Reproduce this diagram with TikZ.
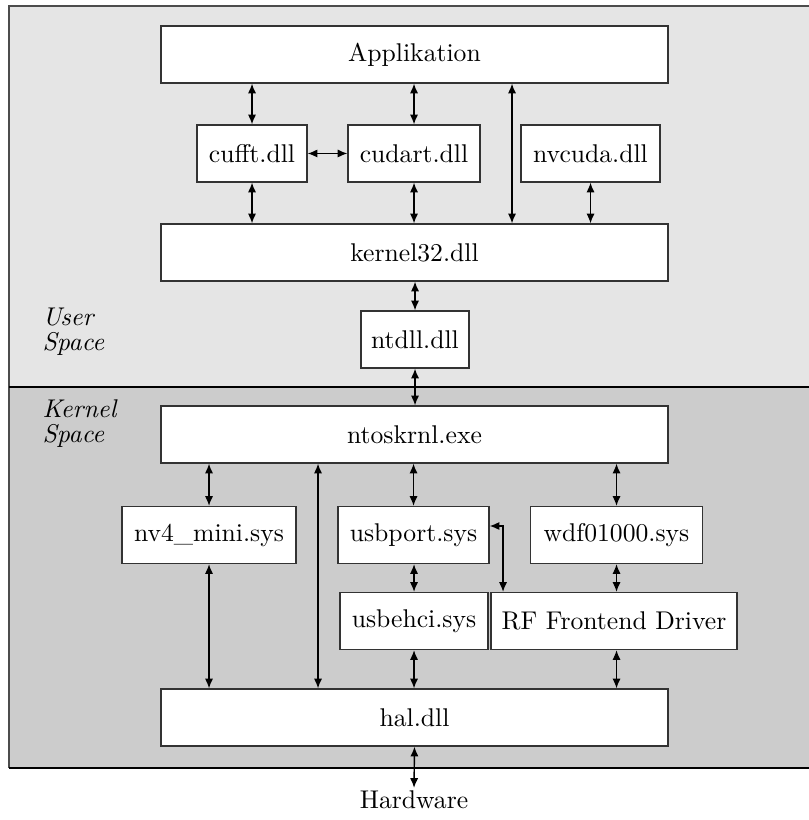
\documentclass[tikz,border=0pt]{standalone}
\usetikzlibrary{arrows.meta}
\begin{document}
\begin{tikzpicture}[
  x={(0.39pt,0)}, y={(0,-0.39pt)},
  module/.style 2 args={draw=black!80, line width=0.5pt, fill=white, inner sep=0pt,
    minimum width=#1*0.39pt, minimum height=#2*0.39pt, font=\normalsize},
  link/.style={{Latex[length=3.8pt,width=3.2pt]}-{Latex[length=3.8pt,width=3.2pt]}, line width=0.55pt, black},
  spacelabel/.style={anchor=north west, align=left, inner sep=0pt, font=\itshape}
]
\useasboundingbox (0,0) rectangle (808,820);

% address space regions
\fill[black!10] (9,6) rectangle (815,387);
\fill[black!20] (9,387) rectangle (815,768);
\draw[black!70, line width=0.6pt] (9,387) -- (9,6) -- (815,6);
\draw[black!70, line width=0.6pt] (9,387) -- (9,768);
\draw[black, line width=0.6pt] (9,387) -- (815,387);
\draw[black, line width=0.6pt] (9,768) -- (815,768);

\node[spacelabel] (user) at (42,307) {User\\[-2pt]Space};
\node[spacelabel] (kern) at (42,399) {Kernel\\[-2pt]Space};

% user space modules
\node[module={507}{57}] (app)    at (414.5,54.5)  {Applikation};
\node[module={110}{57}] (cufft)  at (252,153.5)   {cufft.dll};
\node[module={132}{57}] (cudart) at (414,153.5)   {cudart.dll};
\node[module={139}{57}] (nvcuda) at (590.5,153.5) {nvcuda.dll};
\node[module={507}{57}] (k32)    at (414.5,252.5) {kernel32.dll};
\node[module={108}{57}] (ntdll)  at (415,339.5)   {ntdll.dll};

% kernel space modules
\node[module={507}{57}] (ntos)    at (414.5,434.5) {ntoskrnl.exe};
\node[module={174}{57}] (nv4)     at (209,535)     {nv4\_mini.sys};
\node[module={151}{57}] (usbport) at (413.5,535)   {usbport.sys};
\node[module={172}{57}] (wdf)     at (616.5,535)   {wdf01000.sys};
\node[module={148}{57}] (usbehci) at (414,621)     {usbehci.sys};
\node[module={246}{57}] (rf)      at (614,621)     {RF Frontend Driver};
\node[module={507}{57}] (hal)     at (414.5,717.5) {hal.dll};

\node[inner sep=1pt] (hw) at (414,800) {Hardware};

% helper columns
\coordinate (colA) at (512,0);
\coordinate (colB) at (318,0);
\coordinate (colC) at (503,526);

% user space links
\draw[link] (cufft.north |- app.south) -- (cufft.north);
\draw[link] (cudart.north |- app.south) -- (cudart.north);
\draw[link] (app.south -| colA) -- (k32.north -| colA);
\draw[link] (cufft.east) -- (cudart.west);
\draw[link] (cufft.south) -- (cufft.south |- k32.north);
\draw[link] (cudart.south) -- (cudart.south |- k32.north);
\draw[link] (nvcuda.south) -- (nvcuda.south |- k32.north);
\draw[link] (k32.south -| ntdll.north) -- (ntdll.north);
\draw[link] (ntdll.south) -- (ntdll.south |- ntos.north);

% kernel space links
\draw[link] (ntos.south -| nv4.north) -- (nv4.north);
\draw[link] (ntos.south -| colB) -- (hal.north -| colB);
\draw[link] (ntos.south -| usbport.north) -- (usbport.north);
\draw[link] (ntos.south -| wdf.north) -- (wdf.north);
\draw[link] (nv4.south) -- (nv4.south |- hal.north);
\draw[link] (usbport.south -| usbehci.north) -- (usbehci.north);
\draw[link] (usbport.east |- colC) -| (rf.north -| colC);
\draw[link] (wdf.south) -- (wdf.south |- rf.north);
\draw[link] (usbehci.south) -- (usbehci.south |- hal.north);
\draw[link] (rf.south -| wdf.south) -- (hal.north -| wdf.south);
\draw[link] (hal.south) -- (hw.north);
\end{tikzpicture}
\end{document}
